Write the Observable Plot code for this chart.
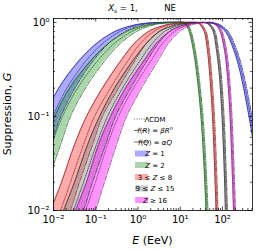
<!DOCTYPE html>
<html><head><meta charset="utf-8">
<script src="https://cdn.jsdelivr.net/npm/d3@7"></script>
<script src="https://cdn.jsdelivr.net/npm/@observablehq/plot@0.6"></script>
<style>body{margin:0;background:#fff;} #chart{width:256px;height:250px;}</style>
</head><body><div id="chart"></div>
<script>
// Suppression levels at which energies were read (rising and falling branches)
const G_RISE = [0.004, 0.01, 0.02, 0.05, 0.1, 0.2, 0.4, 0.6, 0.8, 0.9, 0.97, 1.0];
const G_FALL = [1.0, 0.97, 0.9, 0.78, 0.5, 0.3, 0.1, 0.03, 0.01, 0.004];

// Z = 1
const Z1_FQ_RISE = [0.000388, 0.000787, 0.00151, 0.00324, 0.00624, 0.0133, 0.0420, 0.106, 0.283, 0.575, 1.24, 3.6];
const Z1_LCDM_RISE = [0.000668, 0.00136, 0.00247, 0.00530, 0.00965, 0.0208, 0.0616, 0.148, 0.372, 0.715, 1.45, 4.0];
const Z1_FR_RISE = [0.00115, 0.00234, 0.00403, 0.00865, 0.0149, 0.0320, 0.0901, 0.204, 0.488, 0.889, 1.72, 4.5];
const Z1_FQ_FALL = [16.1, 63.0, 87.3, 121, 187, 260, 424, 655, 909, 1131];
const Z1_LCDM_FALL = [17.5, 68.3, 94.7, 131, 203, 282, 460, 711, 986, 1227];
const Z1_FR_FALL = [19.0, 74.1, 103, 142, 220, 306, 499, 771, 1070, 1331];
// Z = 2
const Z2_FQ_RISE = [0.000692, 0.00149, 0.00270, 0.00549, 0.0106, 0.0239, 0.0793, 0.200, 0.535, 1.09, 2.46, 8.15];
const Z2_LCDM_RISE = [0.00119, 0.00256, 0.00442, 0.00897, 0.0163, 0.0370, 0.116, 0.278, 0.702, 1.35, 2.90, 9.09];
const Z2_FR_RISE = [0.00206, 0.00442, 0.00721, 0.0147, 0.0252, 0.0572, 0.170, 0.385, 0.921, 1.68, 3.41, 10.1];
const Z2_FQ_FALL = [10.7, 12.6, 14.5, 16.6, 20.5, 24.2, 31.0, 36.5, 40.7, 44.1];
const Z2_LCDM_FALL = [11.3, 13.3, 15.3, 17.5, 21.7, 25.6, 32.7, 38.5, 43.0, 46.6];
const Z2_FR_FALL = [11.9, 14.0, 16.2, 18.5, 22.9, 27.0, 34.5, 40.7, 45.4, 49.2];
// 3 <= Z <= 8
const Z3_FQ_RISE = [0.00396, 0.00849, 0.0155, 0.0314, 0.0604, 0.144, 0.407, 0.826, 1.77, 3.23, 6.56, 17.5];
const Z3_LCDM_RISE = [0.00683, 0.0147, 0.0252, 0.0513, 0.0934, 0.223, 0.596, 1.15, 2.33, 4.01, 7.73, 19.5];
const Z3_FR_RISE = [0.0118, 0.0252, 0.0412, 0.0838, 0.144, 0.345, 0.873, 1.59, 3.06, 4.99, 9.09, 21.7];
const Z3_FQ_FALL = [22.9, 27.7, 31.8, 37.5, 44.1, 49.2, 58.0, 64.7, 70.2, 74.1];
const Z3_LCDM_FALL = [24.2, 29.3, 33.6, 39.6, 46.6, 52.0, 61.2, 68.3, 74.1, 78.2];
const Z3_FR_FALL = [25.6, 30.9, 35.5, 41.8, 49.2, 54.9, 64.6, 72.1, 78.3, 82.6];
// 9 <= Z <= 15
const Z9_FQ_RISE = [0.00804, 0.0173, 0.0314, 0.0638, 0.123, 0.278, 0.782, 1.59, 3.23, 5.88, 11.3, 27.0];
const Z9_LCDM_RISE = [0.0139, 0.0297, 0.0513, 0.104, 0.190, 0.430, 1.15, 2.20, 4.24, 7.31, 13.3, 30.1];
const Z9_FR_RISE = [0.0239, 0.0513, 0.0838, 0.170, 0.293, 0.664, 1.68, 3.06, 5.57, 9.09, 15.7, 33.6];
const Z9_FQ_FALL = [35.5, 44.1, 52.1, 61.3, 72.2, 82.7, 97.5, 109, 117, 124];
const Z9_LCDM_FALL = [37.5, 46.6, 55.0, 64.7, 76.2, 87.3, 103, 115, 124, 131];
const Z9_FR_FALL = [39.6, 49.2, 58.1, 68.3, 80.5, 92.2, 109, 121, 131, 138];
// Z >= 16
const Z16_FQ_RISE = [0.0155, 0.0332, 0.0604, 0.116, 0.223, 0.506, 1.43, 2.74, 5.57, 9.60, 17.5, 39.6];
const Z16_LCDM_RISE = [0.0267, 0.0572, 0.0987, 0.190, 0.345, 0.782, 2.09, 3.80, 7.31, 11.9, 20.6, 44.2];
const Z16_FR_RISE = [0.0460, 0.0987, 0.161, 0.310, 0.535, 1.21, 3.06, 5.27, 9.60, 14.9, 24.2, 49.2];
const Z16_FQ_FALL = [52.1, 61.3, 76.1, 89.7, 112, 128, 151, 168, 182, 192];
const Z16_LCDM_FALL = [55.0, 64.7, 80.4, 94.7, 118, 135, 159, 177, 192, 203];
const Z16_FR_FALL = [58.1, 68.3, 84.9, 100, 125, 143, 168, 187, 203, 214];

const GROUP_LABELS = ["Z = 1", "Z = 2", "3 ≤ Z ≤ 8", "9 ≤ Z ≤ 15", "Z ≥ 16"];
const GROUP_FILLS = ["#0000ff", "#008000", "#ff0000", "#808080", "#ff00ff"];
const GROUP_LINES = ["#24249a", "#1f631f", "#8f2323", "#303030", "#862086"];
const FILL_OPACITY = [0.33, 0.33, 0.33, 0.42, 0.42];

const X_MAJOR = [0.01, 0.1, 1, 10, 100];
const X_MINOR = [0.02,0.03,0.04,0.05,0.06,0.07,0.08,0.09,0.2,0.3,0.4,0.5,0.6,0.7,0.8,0.9,2,3,4,5,6,7,8,9,20,30,40,50,60,70,80,90,200,300,400,500];
const Y_MAJOR = [0.01, 0.1, 1];
const Y_MINOR = [0.02,0.03,0.04,0.05,0.06,0.07,0.08,0.09,0.2,0.3,0.4,0.5,0.6,0.7,0.8,0.9];

const curves = [
  {fq:[Z1_FQ_RISE, Z1_FQ_FALL], l:[Z1_LCDM_RISE, Z1_LCDM_FALL], fr:[Z1_FR_RISE, Z1_FR_FALL]},
  {fq:[Z2_FQ_RISE, Z2_FQ_FALL], l:[Z2_LCDM_RISE, Z2_LCDM_FALL], fr:[Z2_FR_RISE, Z2_FR_FALL]},
  {fq:[Z3_FQ_RISE, Z3_FQ_FALL], l:[Z3_LCDM_RISE, Z3_LCDM_FALL], fr:[Z3_FR_RISE, Z3_FR_FALL]},
  {fq:[Z9_FQ_RISE, Z9_FQ_FALL], l:[Z9_LCDM_RISE, Z9_LCDM_FALL], fr:[Z9_FR_RISE, Z9_FR_FALL]},
  {fq:[Z16_FQ_RISE, Z16_FQ_FALL], l:[Z16_LCDM_RISE, Z16_LCDM_FALL], fr:[Z16_FR_RISE, Z16_FR_FALL]}
];

const toLine = ([rise, fall]) => [
  ...G_RISE.map((G, i) => ({E: rise[i], G})),
  ...G_FALL.map((G, i) => ({E: fall[i], G}))
];
const toBand = (q, r, levels) => levels.map((G, i) => ({G, x1: q[i], x2: r[i]}));

const W = 256, H = 250, ML = 53, MR = 4, MT = 18, MB = 40;
const FH = H - MT - MB, FW = W - ML - MR;
const SUP = {"-": "⁻", "0": "⁰", "1": "¹", "2": "²", "3": "³"};
const fmt = d => "10" + String(Math.round(Math.log10(d))).split("").map(c => SUP[c]).join("");

const DOT = "1,1.4", DASHDOT = "4.5,1.3,0.9,1.3";
const marks = [];
curves.forEach((c, k) => {
  const style = {fill: GROUP_FILLS[k], fillOpacity: FILL_OPACITY[k], curve: "catmull-rom", clip: true};
  marks.push(Plot.areaX(toBand(c.fq[0], c.fr[0], G_RISE), {y: "G", x1: "x1", x2: "x2", ...style}));
  marks.push(Plot.areaX(toBand(c.fq[1], c.fr[1], G_FALL), {y: "G", x1: "x1", x2: "x2", ...style}));
});
curves.forEach((c, k) => {
  const base = {x: "E", y: "G", stroke: GROUP_LINES[k], strokeWidth: 0.8, curve: "catmull-rom", clip: true};
  marks.push(Plot.line(toLine(c.fq), {...base}));
  marks.push(Plot.line(toLine(c.fr), {...base, strokeDasharray: DASHDOT}));
  marks.push(Plot.line(toLine(c.l), {...base, strokeDasharray: DOT}));
});
const tk = {stroke: "black", strokeWidth: 0.7};
marks.push(
  Plot.ruleX(X_MAJOR, {x: d => d, insetTop: FH - 3.5, ...tk}),
  Plot.ruleX(X_MAJOR, {x: d => d, insetBottom: FH - 3.5, ...tk}),
  Plot.ruleX(X_MINOR, {x: d => d, insetTop: FH - 2, ...tk}),
  Plot.ruleX(X_MINOR, {x: d => d, insetBottom: FH - 2, ...tk}),
  Plot.ruleY(Y_MAJOR, {y: d => d, insetRight: FW - 3.5, ...tk}),
  Plot.ruleY(Y_MAJOR, {y: d => d, insetLeft: FW - 3.5, ...tk}),
  Plot.ruleY(Y_MINOR, {y: d => d, insetRight: FW - 2, ...tk}),
  Plot.ruleY(Y_MINOR, {y: d => d, insetLeft: FW - 2, ...tk}),
  Plot.axisX(X_MAJOR, {tickSize: 0, tickPadding: 5, tickFormat: fmt, fontSize: 10, label: null}),
  Plot.axisY(Y_MAJOR, {tickSize: 0, tickPadding: 4, tickFormat: fmt, fontSize: 10, label: null}),
  Plot.frame({stroke: "black", strokeWidth: 0.8})
);

const svg = Plot.plot({
  width: W, height: H, marginLeft: ML, marginRight: MR, marginTop: MT, marginBottom: MB,
  x: {type: "log", domain: [0.01, 513]},
  y: {type: "log", domain: [0.01, 1.1]},
  style: {fontFamily: "DejaVu Sans", fontSize: "10px", color: "black", background: "white"},
  marks
});
document.getElementById("chart").appendChild(svg);

// Titles and axis labels (mixed italic), legend
const s = d3.select(svg);
const t = s.append("text").attr("x", 123).attr("y", 11).attr("font-size", 8.5).attr("fill", "black");
t.append("tspan").attr("font-style", "italic").text("X");
t.append("tspan").attr("font-size", 6).attr("dy", 2).text("s");
t.append("tspan").attr("dy", -2).text(" = 1,");
s.append("text").attr("x", 170).attr("y", 11).attr("font-size", 8.5).attr("fill", "black").text("NE");

const yl = s.append("text").attr("transform", `translate(11,${MT + FH / 2}) rotate(-90)`)
  .attr("text-anchor", "middle").attr("font-size", 11).attr("fill", "black");
yl.append("tspan").text("Suppression, ");
yl.append("tspan").attr("font-style", "italic").text("G");

const xl = s.append("text").attr("x", ML + FW / 2).attr("y", 244)
  .attr("text-anchor", "middle").attr("font-size", 11).attr("fill", "black");
xl.append("tspan").attr("font-style", "italic").text("E");
xl.append("tspan").text(" (EeV)");

const LEG_Y = [119, 130.5, 142, 153.5, 165, 177, 188.5, 200];
const lg = s.append("g").attr("font-size", 7).attr("fill", "black");
const lineKeys = [DOT, DASHDOT, null];
lineKeys.forEach((dash, i) => {
  const ln = lg.append("line").attr("x1", 134).attr("x2", 149).attr("y1", LEG_Y[i]).attr("y2", LEG_Y[i])
    .attr("stroke", "#444").attr("stroke-width", 0.8);
  if (dash) ln.attr("stroke-dasharray", dash);
});
const t0 = lg.append("text").attr("x", 155).attr("y", LEG_Y[0] + 2.5);
t0.append("tspan").text("ΛCDM");
const t1 = lg.append("text").attr("x", 155).attr("y", LEG_Y[1] + 2.5);
t1.append("tspan").attr("font-style", "italic").text("f");
t1.append("tspan").text("(");
t1.append("tspan").attr("font-style", "italic").text("R");
t1.append("tspan").text(") = ");
t1.append("tspan").attr("font-style", "italic").text("βR");
t1.append("tspan").attr("font-style", "italic").attr("font-size", 5).attr("dy", -3).text("n");
const t2 = lg.append("text").attr("x", 155).attr("y", LEG_Y[2] + 2.5);
t2.append("tspan").attr("font-style", "italic").text("f");
t2.append("tspan").text("(");
t2.append("tspan").attr("font-style", "italic").text("Q");
t2.append("tspan").text(") = ");
t2.append("tspan").attr("font-style", "italic").text("αQ");
GROUP_LABELS.forEach((lab, k) => {
  const y = LEG_Y[3 + k];
  lg.append("rect").attr("x", 135).attr("y", y - 3).attr("width", 13).attr("height", 6)
    .attr("fill", GROUP_FILLS[k]).attr("fill-opacity", FILL_OPACITY[k]);
  const tt = lg.append("text").attr("x", 155).attr("y", y + 2.5);
  lab.split(/(Z)/).forEach(part => {
    if (!part) return;
    const sp = tt.append("tspan").text(part);
    if (part === "Z") sp.attr("font-style", "italic");
  });
});
</script>
</body></html>
